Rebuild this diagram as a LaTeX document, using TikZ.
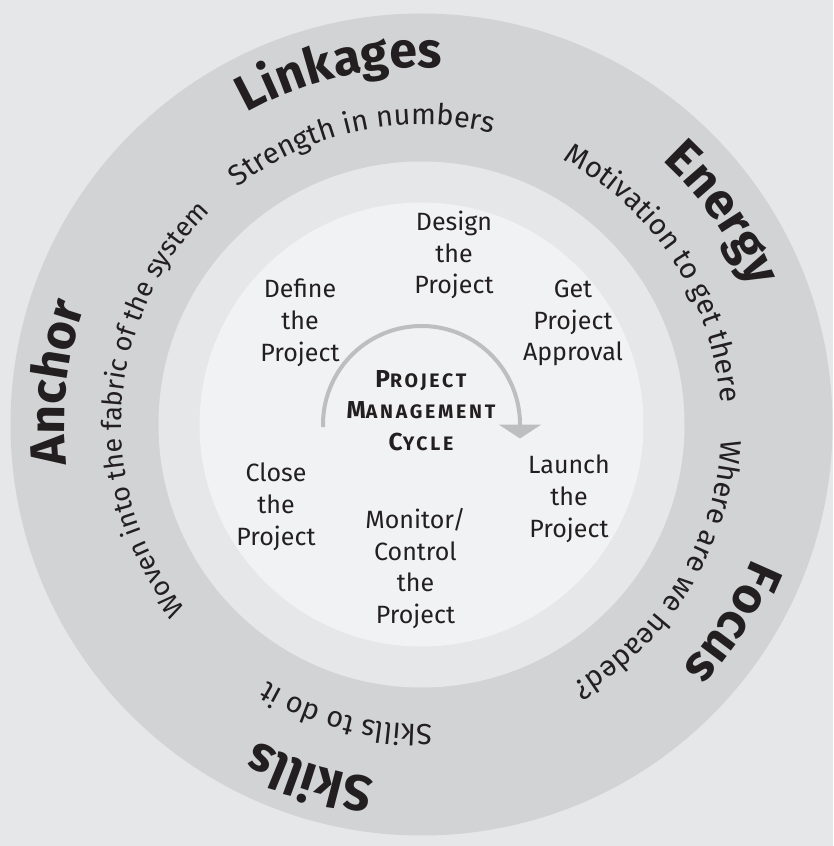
\documentclass[tikz,border=0pt]{standalone}
\usepackage{fontspec}
\setmainfont{Fira Sans}
\newfontfamily\capsfont[LetterSpace=14]{Fira Sans}
\usetikzlibrary{decorations.text,arrows.meta}

\definecolor{ink}{HTML}{231F20}
\definecolor{paper}{HTML}{E6E7E8}
\definecolor{ringgray}{HTML}{D1D3D4}
\definecolor{coregray}{HTML}{F1F2F3}
\definecolor{arcgray}{HTML}{BCBEC0}

% fonts for the ring words
\newcommand{\bigword}{\color{ink}\fontsize{50}{50}\selectfont\bfseries}
\newcommand{\motto}{\color{ink}\fontsize{29}{29}\selectfont}
\newcommand{\longmotto}{\color{ink}\fontsize{27}{27}\selectfont}
% capital + smaller capitals
\newcommand{\fakecaps}[2]{#1{\fontsize{19.5}{19.5}\selectfont #2}}

% text running clockwise round the rings: radius, centre angle, font, text
\newcommand{\ringlabel}[4]{%
  \path[decorate, decoration={text along path, text align=center, text={|#3|#4}}]
    ({#2+80}:#1) arc[start angle={#2+80}, end angle={#2-80}, radius=#1];
}

\tikzset{
  phase/.style={font=\fontsize{25}{31.8}\selectfont, text=ink, align=center, inner sep=0pt},
  cyclearrow/.style={line width=4pt, draw=arcgray, -{Triangle[width=42pt,length=14pt]}}
}

\begin{document}
\begin{tikzpicture}[x=1pt,y=1pt]

% radii of the three discs and of the text lines
\def\ro{411}
\def\rm{263}
\def\ri{222}
\def\rbig{357}
\def\rsmall{300}

\fill[paper] (-421.5,-421.5) rectangle (411.5,424.5);
\useasboundingbox (-421.5,-421.5) rectangle (411.5,424.5);

\fill[ringgray] (0,0) circle (\ro);
\fill[paper] (0,0) circle (\rm);
\fill[coregray] (0,0) circle (\ri);

% the cycle arrow
\draw[cyclearrow] (181.5:98.5) arc[start angle=181.5, end angle=0, radius=98.5] -- ++(0,-14);

\node[font=\capsfont\bfseries\fontsize{24.5}{31.5}\selectfont, text=ink, align=center] (cycle) at (-0.5,14)
  {\fakecaps{P}{ROJECT}\\\fakecaps{M}{ANAGEMENT}\\\fakecaps{C}{YCLE}};

% the six phases
\node[phase] (design) at (32.5,169.5) {Design\\the\\Project};
\node[phase] (approval) at (151.5,101.5) {Get\\Project\\Approval};
\node[phase] (launch) at (147.5,-74.5) {Launch\\the\\Project};
\node[phase] (monitor) at (-6,-144) {Monitor/\\Control\\the\\Project};
\node[phase] (close) at (-145.5,-82) {Close\\the\\Project};
\node[phase] (define) at (-121.5,101.5) {Define\\the\\Project};

% words round the outer ring
\ringlabel{\rbig}{103}{\bigword}{Linkages}
\ringlabel{\rsmall}{102}{\motto}{Strength in numbers}
\ringlabel{\rbig}{35}{\bigword}{Energy}
\ringlabel{\rsmall}{33}{\motto}{Motivation to get there}
\ringlabel{\rsmall}{-31.4}{\motto}{Where are we headed?}
\ringlabel{\rbig}{-32.5}{\bigword}{Focus}
\ringlabel{\rsmall}{-104.5}{\motto}{Skills to do it}
\ringlabel{\rbig}{-107.5}{\bigword}{Skills}
\ringlabel{\rbig}{173.5}{\bigword}{Anchor}
\ringlabel{\rsmall}{176.4}{\longmotto}{Woven into the fabric of the system}

\end{tikzpicture}
\end{document}
